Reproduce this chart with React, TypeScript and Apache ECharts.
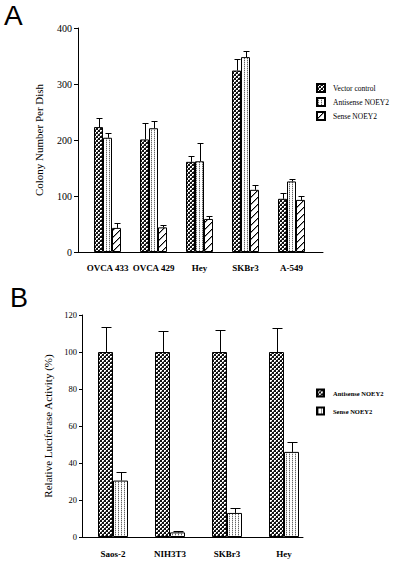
import React, { useEffect, useRef } from 'react';
import * as echarts from 'echarts';

// ---- Panel A data ----
const catsA = ['OVCA 433', 'OVCA 429', 'Hey', 'SKBr3', 'A-549'];
const vectorA = [223, 201, 161, 324, 95];
const vectorErrA = [239, 231, 171, 344, 106];
const antiA = [204, 221, 162, 348, 126];
const antiErrA = [212, 234, 195, 359, 130];
const senseA = [43, 44, 59, 111, 93];
const senseErrA = [51, 48, 65, 119, 100];
const yMinA = 0;
const yMaxA = 400;
const yStepA = 100;

// ---- Panel B data ----
const catsB = ['Saos-2', 'NIH3T3', 'SKBr3', 'Hey'];
const antiB = [100, 100, 100, 100];
const antiErrB = [113.5, 111.5, 112, 113];
const senseB = [30.5, 2.5, 13, 46];
const senseErrB = [35, 3.2, 15.5, 51.5];
const yMinB = 0;
const yMaxB = 120;
const yStepB = 20;

const SERIF = '"Liberation Serif", "Times New Roman", serif';
const SANS = '"Liberation Sans", Arial, sans-serif';

function makeTile(w: number, h: number, bg: string, pixels: [number, number, string][]) {
  const c = document.createElement('canvas');
  c.width = w;
  c.height = h;
  const ctx = c.getContext('2d')!;
  ctx.fillStyle = bg;
  ctx.fillRect(0, 0, w, h);
  for (const [x, y, col] of pixels) {
    ctx.fillStyle = col;
    ctx.fillRect(x, y, 1, 1);
  }
  return { image: c, repeat: 'repeat', imageWidth: w, imageHeight: h } as any;
}

function checkerPattern() {
  return makeTile(4, 4, '#111', [
    [2, 0, '#fff'],
    [3, 0, '#fff'],
    [2, 1, '#fff'],
    [3, 1, '#777'],
    [0, 2, '#fff'],
    [1, 2, '#fff'],
    [0, 3, '#fff'],
    [1, 3, '#777'],
  ]);
}
function stipplePattern() {
  return makeTile(3, 2, '#fff', [
    [1, 0, '#666'],
    [1, 1, '#ccc'],
  ]);
}
function hatchPattern() {
  const px: [number, number, string][] = [];
  for (let i = 0; i < 7; i++) {
    px.push([i, (7 - i) % 7, '#999']);
  }
  for (let i = 0; i < 7; i++) {
    px.push([i, 6 - i, '#000']);
  }
  return makeTile(7, 7, '#fff', px);
}

function errSeries(top: number[], base: number[], offset: number, cap: number) {
  return {
    type: 'custom',
    xAxisIndex: 1,
    yAxisIndex: 1,
    z: 5,
    silent: true,
    data: top.map((t, i) => [i, t, base[i]]),
    renderItem: (_p: any, api: any) => {
      const i = api.value(0);
      const p1 = api.coord([i, api.value(2)]);
      const p2 = api.coord([i, api.value(1)]);
      const cx = Math.round(p1[0] + offset) + 0.5;
      const ty = Math.round(p2[1]) + 0.5;
      return {
        type: 'group',
        children: [
          { type: 'line', shape: { x1: cx, y1: p1[1], x2: cx, y2: ty }, style: { stroke: '#000', lineWidth: 1 } },
          { type: 'line', shape: { x1: cx - cap, y1: ty, x2: cx + cap, y2: ty }, style: { stroke: '#000', lineWidth: 1 } },
        ],
      };
    },
  };
}

function grids(gridLeft: number, top: number, width: number, height: number, dataLeft: number, dataWidth: number) {
  return [
    { left: gridLeft, top, width, height },
    { left: dataLeft, top, width: dataWidth, height },
  ];
}

function buildA(): any {
  const checker = checkerPattern();
  const stip = stipplePattern();
  const hatch = hatchPattern();
  const bw = 9;
  const border = { borderColor: '#000', borderWidth: 1 };
  return {
    animation: false,
    backgroundColor: '#fff',
    grid: grids(78, 28, 245, 224, 84.5, 230),
    xAxis: [
      {
        gridIndex: 0, type: 'value', min: 0, max: 1,
        axisLine: { show: true, lineStyle: { color: '#000', width: 1 } },
        axisTick: { show: false }, axisLabel: { show: false }, splitLine: { show: false },
      },
      {
        gridIndex: 1, type: 'category', data: catsA,
        axisLine: { show: false }, axisTick: { show: false },
        axisLabel: { interval: 0, hideOverlap: false, margin: 11, fontSize: 9, fontWeight: 'bold', color: '#000', fontFamily: SERIF },
      },
    ],
    yAxis: [
      {
        gridIndex: 0, type: 'value', min: yMinA, max: yMaxA, interval: yStepA,
        name: 'Colony Number Per Dish', nameLocation: 'middle', nameGap: 34,
        nameTextStyle: { fontSize: 11, fontFamily: SERIF, color: '#000' },
        axisLine: { show: true, lineStyle: { color: '#000', width: 1 } },
        axisTick: { show: true, length: 4, lineStyle: { color: '#000' } },
        axisLabel: { margin: 6, fontSize: 10, color: '#000', fontFamily: SERIF },
        splitLine: { show: false },
      },
      { gridIndex: 1, type: 'value', min: yMinA, max: yMaxA, show: false },
    ],
    legend: {
      data: ['Vector control', 'Antisense NOEY2', 'Sense NOEY2'],
      orient: 'vertical', left: 316, top: 83, padding: 0,
      itemWidth: 8, itemHeight: 8, itemGap: 4, icon: 'rect', selectedMode: false,
      textStyle: { fontSize: 7.5, lineHeight: 8, fontFamily: SERIF, color: '#000', padding: [0, 0, 0, 3] },
    },
    graphic: [
      { type: 'text', left: 4, top: 1, style: { text: 'A', fontSize: 28, fontFamily: SANS, fill: '#000' } },
    ],
    series: [
      { type: 'bar', name: 'Vector control', xAxisIndex: 1, yAxisIndex: 1, data: vectorA, barWidth: bw, barGap: '0%', itemStyle: { color: checker, ...border } },
      { type: 'bar', name: 'Antisense NOEY2', xAxisIndex: 1, yAxisIndex: 1, data: antiA, barWidth: bw, barGap: '0%', itemStyle: { color: stip, ...border } },
      { type: 'bar', name: 'Sense NOEY2', xAxisIndex: 1, yAxisIndex: 1, data: senseA, barWidth: bw, barGap: '0%', itemStyle: { color: hatch, ...border } },
      errSeries(vectorErrA, vectorA, -bw, 3),
      errSeries(antiErrA, antiA, 0, 3),
      errSeries(senseErrA, senseA, bw, 3),
    ],
  };
}

function buildB(): any {
  const checker = checkerPattern();
  const stip = stipplePattern();
  const bw = 15;
  const border = { borderColor: '#000', borderWidth: 1 };
  return {
    animation: false,
    backgroundColor: '#fff',
    grid: grids(82, 35, 221, 222, 84.5, 228),
    xAxis: [
      {
        gridIndex: 0, type: 'value', min: 0, max: 1,
        axisLine: { show: true, lineStyle: { color: '#000', width: 1 } },
        axisTick: { show: false }, axisLabel: { show: false }, splitLine: { show: false },
      },
      {
        gridIndex: 1, type: 'category', data: catsB,
        axisLine: { show: false }, axisTick: { show: false },
        axisLabel: { interval: 0, hideOverlap: false, margin: 12, fontSize: 9, fontWeight: 'bold', color: '#000', fontFamily: SERIF },
      },
    ],
    yAxis: [
      {
        gridIndex: 0, type: 'value', min: yMinB, max: yMaxB, interval: yStepB,
        name: 'Relative Luciferase Activity (%)', nameLocation: 'middle', nameGap: 24,
        nameTextStyle: { fontSize: 11, fontFamily: SERIF, color: '#000' },
        axisLine: { show: true, lineStyle: { color: '#000', width: 1 } },
        axisTick: { show: true, length: 3, lineStyle: { color: '#000' } },
        axisLabel: { margin: 5, fontSize: 8.5, color: '#000', fontFamily: SERIF },
        splitLine: { show: false },
      },
      { gridIndex: 1, type: 'value', min: yMinB, max: yMaxB, show: false },
    ],
    legend: {
      data: ['Antisense NOEY2', 'Sense NOEY2'],
      orient: 'vertical', left: 316, top: 108.5, padding: 0,
      itemWidth: 7, itemHeight: 7, itemGap: 9, icon: 'rect', selectedMode: false,
      textStyle: { fontSize: 6.5, lineHeight: 7, fontFamily: SERIF, fontWeight: 'bold', color: '#000', padding: [0, 0, 0, 4] },
    },
    graphic: [
      { type: 'text', left: 10, top: 4, style: { text: 'B', fontSize: 27, fontFamily: SANS, fill: '#000' } },
    ],
    series: [
      { type: 'bar', name: 'Antisense NOEY2', xAxisIndex: 1, yAxisIndex: 1, data: antiB, barWidth: bw, barGap: '0%', itemStyle: { color: checker, ...border } },
      { type: 'bar', name: 'Sense NOEY2', xAxisIndex: 1, yAxisIndex: 1, data: senseB, barWidth: bw, barGap: '0%', itemStyle: { color: stip, ...border } },
      errSeries(antiErrB, antiB, -bw / 2, 5),
      errSeries(senseErrB, senseB, bw / 2, 5),
    ],
  };
}

export default function App() {
  const refA = useRef<HTMLDivElement>(null);
  const refB = useRef<HTMLDivElement>(null);
  useEffect(() => {
    const a = echarts.init(refA.current!, null, { renderer: 'svg' });
    a.setOption(buildA());
    const b = echarts.init(refB.current!, null, { renderer: 'svg' });
    b.setOption(buildB());
    return () => {
      a.dispose();
      b.dispose();
    };
  }, []);
  return (
    <div style={{ position: 'absolute', left: 0, top: 0, width: 402, height: 563, background: '#fff' }}>
      <div ref={refA} style={{ position: 'absolute', left: 0, top: 0, width: 402, height: 280 }} />
      <div ref={refB} style={{ position: 'absolute', left: 0, top: 280, width: 402, height: 283 }} />
    </div>
  );
}
